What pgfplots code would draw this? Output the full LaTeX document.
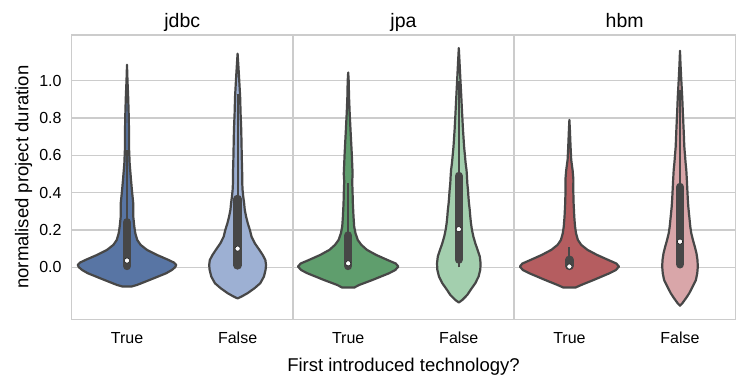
\documentclass[border=0pt]{standalone}
\usepackage{fontspec}
\setmainfont{Liberation Sans}
\usepackage{pgfplots}
\pgfplotsset{compat=1.18}
\definecolor{gridc}{HTML}{CCCCCC}
\definecolor{vgray}{HTML}{474747}
\definecolor{cBT}{HTML}{5875A4}
\definecolor{cBF}{HTML}{9DB0D3}
\definecolor{cGT}{HTML}{5F9E6D}
\definecolor{cGF}{HTML}{A3CFAE}
\definecolor{cRT}{HTML}{B55D60}
\definecolor{cRF}{HTML}{D9A6A9}
\pgfplotsset{
  panel/.style={
    scale only axis, width=221.2pt, height=284.3pt, anchor=south west,
    xmin=-0.5, xmax=1.5, ymin=-0.279, ymax=1.245,
    xtick={0,1}, xticklabels={True,False},
    ytick={0,0.2,0.4,0.6,0.8,1.0},
    major tick length=0pt,
    ymajorgrids,
    grid style={gridc, line width=1.2pt},
    axis line style={gridc, line width=1.3pt},
    tick label style={font=\fontsize{16}{19}\selectfont},
    xticklabel style={anchor=base, yshift=-24.5pt},
    yticklabel style={anchor=east, inner sep=0pt, xshift=-10pt,
      /pgf/number format/.cd, fixed, fixed zerofill, precision=1, assume math mode=true},
    title style={anchor=base, yshift=1.7pt, font=\fontsize{19.5}{23}\selectfont},
  },
  violin/.style={draw=vgray, line width=2.2pt, line join=round},
  vbox/.style={vgray, line width=8.5pt, line cap=round},
  vwhisk/.style={vgray, line width=2.1pt},
  vmed/.style={only marks, mark=*, mark size=2.6pt, mark options={fill=white, draw=none}},
}
\begin{document}
\begin{tikzpicture}
\useasboundingbox (0,0) rectangle (748pt,386pt);
% ---------------- jdbc ----------------
\begin{axis}[panel, at={(71.7pt,66.7pt)}, title={jdbc},
  ylabel={normalised project duration},
  ylabel style={at={(axis description cs:-0.1962,0.5)}, anchor=base, font=\fontsize{18.5}{22}\selectfont}]
\addplot[violin, fill=cBT] table[x expr=\thisrow{d}+0, y=v] {
d v
-0.042 -0.103
-0.090 -0.095
-0.205 -0.068
-0.355 -0.032
-0.405 -0.015
-0.435 0.000
-0.445 0.0125
-0.425 0.025
-0.376 0.039
-0.271 0.066
-0.181 0.093
-0.123 0.120
-0.093 0.146
-0.075 0.182
-0.066 0.218
-0.057 0.270
-0.057 0.340
-0.045 0.410
-0.036 0.470
-0.024 0.557
-0.018 0.646
-0.018 0.736
-0.015 0.825
-0.0105 0.914
-0.0045 1.000
0 1.085
0.0045 1.000
0.0105 0.914
0.015 0.825
0.018 0.736
0.018 0.646
0.024 0.557
0.036 0.470
0.045 0.410
0.057 0.340
0.057 0.270
0.066 0.218
0.075 0.182
0.093 0.146
0.123 0.120
0.181 0.093
0.271 0.066
0.376 0.039
0.425 0.025
0.445 0.0125
0.435 0.000
0.405 -0.015
0.355 -0.032
0.205 -0.068
0.090 -0.095
0.042 -0.103
} -- cycle;
\addplot[violin, fill=cBF] table[x expr=\thisrow{d}+1, y=v] {
d v
0 -0.167
-0.036 -0.157
-0.090 -0.139
-0.153 -0.1125
-0.205 -0.0857
-0.238 -0.050
-0.253 -0.014
-0.257 0.0125
-0.251 0.039
-0.227 0.066
-0.197 0.093
-0.155 0.129
-0.126 0.164
-0.111 0.200
-0.092 0.236
-0.077 0.271
-0.065 0.307
-0.059 0.343
-0.051 0.379
-0.045 0.414
-0.042 0.450
-0.041 0.521
-0.039 0.557
-0.036 0.646
-0.033 0.736
-0.027 0.825
-0.023 0.914
-0.015 1.000
-0.006 1.090
0 1.145
0.006 1.090
0.015 1.000
0.023 0.914
0.027 0.825
0.033 0.736
0.036 0.646
0.039 0.557
0.041 0.521
0.042 0.450
0.045 0.414
0.051 0.379
0.059 0.343
0.065 0.307
0.077 0.271
0.092 0.236
0.111 0.200
0.126 0.164
0.155 0.129
0.197 0.093
0.227 0.066
0.251 0.039
0.257 0.0125
0.253 -0.014
0.238 -0.050
0.205 -0.0857
0.153 -0.1125
0.090 -0.139
0.036 -0.157
} -- cycle;
\addplot[vwhisk] coordinates {(0,0) (0,0.63)};
\addplot[vbox] coordinates {(0,0.007) (0,0.241)};
\addplot[vwhisk] coordinates {(1,0) (1,0.93)};
\addplot[vbox] coordinates {(1,0.010) (1,0.366)};
\addplot[vmed] coordinates {(0,0.036) (1,0.100)};
\end{axis}
% ---------------- jpa ----------------
\begin{axis}[panel, at={(292.9pt,66.7pt)}, title={jpa}, yticklabels={},
  xlabel={First introduced technology?},
  xlabel style={at={(axis description cs:0.5,0)}, anchor=base, yshift=-52.3pt, font=\fontsize{18.5}{22}\selectfont}]
\addplot[violin, fill=cGT] table[x expr=\thisrow{d}+0, y=v] {
d v
-0.054 -0.109
-0.099 -0.095
-0.220 -0.068
-0.370 -0.032
-0.425 -0.015
-0.454 0.0036
-0.430 0.020
-0.355 0.039
-0.253 0.066
-0.170 0.093
-0.119 0.120
-0.087 0.146
-0.066 0.182
-0.054 0.218
-0.048 0.271
-0.042 0.343
-0.039 0.414
-0.036 0.460
-0.040 0.500
-0.037 0.540
-0.033 0.600
-0.029 0.646
-0.021 0.736
-0.0135 0.825
-0.0075 0.914
-0.0045 1.000
0 1.044
0.0045 1.000
0.0075 0.914
0.0135 0.825
0.021 0.736
0.029 0.646
0.033 0.600
0.037 0.540
0.040 0.500
0.036 0.460
0.039 0.414
0.042 0.343
0.048 0.271
0.054 0.218
0.066 0.182
0.087 0.146
0.119 0.120
0.170 0.093
0.253 0.066
0.355 0.039
0.430 0.020
0.454 0.0036
0.425 -0.015
0.370 -0.032
0.220 -0.068
0.099 -0.095
0.054 -0.109
} -- cycle;
\addplot[violin, fill=cGF] table[x expr=\thisrow{d}+1, y=v] {
d v
0 -0.189
-0.032 -0.175
-0.077 -0.148
-0.107 -0.121
-0.149 -0.0857
-0.179 -0.050
-0.194 -0.014
-0.197 0.021
-0.190 0.057
-0.170 0.093
-0.149 0.129
-0.132 0.164
-0.119 0.200
-0.110 0.236
-0.104 0.271
-0.099 0.307
-0.092 0.343
-0.087 0.379
-0.083 0.414
-0.077 0.450
-0.074 0.486
-0.070 0.521
-0.062 0.557
-0.048 0.646
-0.038 0.736
-0.030 0.825
-0.0226 0.914
-0.018 0.968
-0.015 1.000
-0.0075 1.090
0 1.175
0.0075 1.090
0.015 1.000
0.018 0.968
0.0226 0.914
0.030 0.825
0.038 0.736
0.048 0.646
0.062 0.557
0.070 0.521
0.074 0.486
0.077 0.450
0.083 0.414
0.087 0.379
0.092 0.343
0.099 0.307
0.104 0.271
0.110 0.236
0.119 0.200
0.132 0.164
0.149 0.129
0.170 0.093
0.190 0.057
0.197 0.021
0.194 -0.014
0.179 -0.050
0.149 -0.0857
0.107 -0.121
0.077 -0.148
0.032 -0.175
} -- cycle;
\addplot[vwhisk] coordinates {(0,0) (0,0.45)};
\addplot[vbox] coordinates {(0,0.007) (0,0.170)};
\addplot[vwhisk] coordinates {(1,0) (1,1.0)};
\addplot[vbox] coordinates {(1,0.041) (1,0.489)};
\addplot[vmed] coordinates {(0,0.021) (1,0.204)};
\end{axis}
% ---------------- hbm ----------------
\begin{axis}[panel, at={(514.1pt,66.7pt)}, title={hbm}, yticklabels={}]
\addplot[violin, fill=cRT] table[x expr=\thisrow{d}+0, y=v] {
d v
-0.054 -0.109
-0.107 -0.095
-0.220 -0.068
-0.363 -0.032
-0.420 -0.015
-0.448 0.0036
-0.425 0.020
-0.352 0.039
-0.250 0.066
-0.164 0.093
-0.107 0.120
-0.077 0.146
-0.060 0.182
-0.051 0.218
-0.044 0.271
-0.038 0.343
-0.035 0.414
-0.036 0.470
-0.029 0.520
-0.0165 0.575
-0.0105 0.646
-0.0045 0.736
0 0.790
0.0045 0.736
0.0105 0.646
0.0165 0.575
0.029 0.520
0.036 0.470
0.035 0.414
0.038 0.343
0.044 0.271
0.051 0.218
0.060 0.182
0.077 0.146
0.107 0.120
0.164 0.093
0.250 0.066
0.352 0.039
0.425 0.020
0.448 0.0036
0.420 -0.015
0.363 -0.032
0.220 -0.068
0.107 -0.095
0.054 -0.109
} -- cycle;
\addplot[violin, fill=cRF] table[x expr=\thisrow{d}+1, y=v] {
d v
0 -0.206
-0.021 -0.193
-0.054 -0.166
-0.084 -0.139
-0.114 -0.104
-0.144 -0.068
-0.156 -0.032
-0.161 0.0036
-0.158 0.039
-0.149 0.075
-0.134 0.110
-0.117 0.146
-0.102 0.182
-0.093 0.218
-0.087 0.254
-0.081 0.289
-0.075 0.325
-0.071 0.361
-0.068 0.396
-0.065 0.432
-0.062 0.468
-0.057 0.521
-0.051 0.557
-0.039 0.646
-0.033 0.736
-0.026 0.825
-0.020 0.914
-0.012 1.000
-0.0045 1.090
0 1.160
0.0045 1.090
0.012 1.000
0.020 0.914
0.026 0.825
0.033 0.736
0.039 0.646
0.051 0.557
0.057 0.521
0.062 0.468
0.065 0.432
0.068 0.396
0.071 0.361
0.075 0.325
0.081 0.289
0.087 0.254
0.093 0.218
0.102 0.182
0.117 0.146
0.134 0.110
0.149 0.075
0.158 0.039
0.161 0.0036
0.156 -0.032
0.144 -0.068
0.114 -0.104
0.084 -0.139
0.054 -0.166
0.021 -0.193
} -- cycle;
\addplot[vwhisk] coordinates {(0,0) (0,0.107)};
\addplot[vbox] coordinates {(0,0.007) (0,0.040)};
\addplot[vwhisk] coordinates {(1,0) (1,0.95)};
\addplot[vbox] coordinates {(1,0.016) (1,0.430)};
\addplot[vmed] coordinates {(0,0.004) (1,0.1375)};
\end{axis}
\end{tikzpicture}
\end{document}
